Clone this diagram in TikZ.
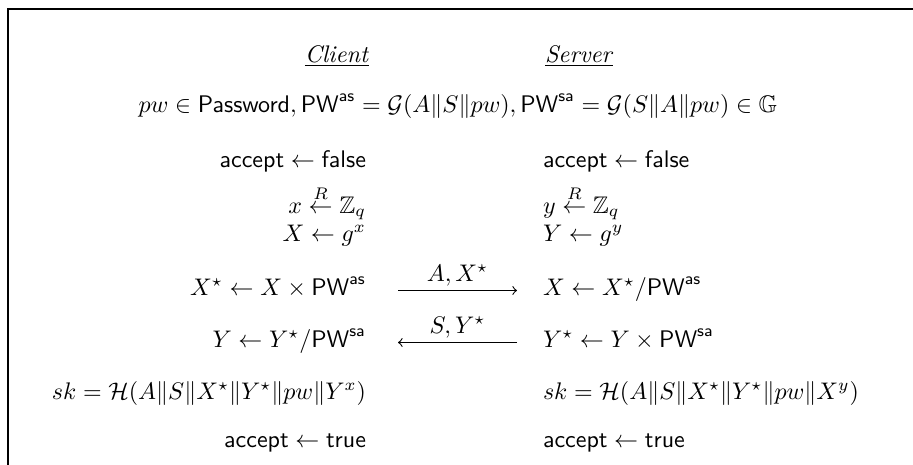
\documentclass[tikz,border=0pt]{standalone}
\usepackage{amsmath,amssymb}
\begin{document}
\begin{tikzpicture}[x=0.4167pt,y=-0.4167pt,
  every node/.style={inner sep=0pt, outer sep=0pt},
  frame/.style={line width=0.9pt},
  msg/.style={->, line width=0.45pt},
  lbl/.style={above=2pt},
  lcol/.style={anchor=base east},
  rcol/.style={anchor=base west}]
\useasboundingbox (0,0) rectangle (913,464);
\draw[frame] (7.7,475) -- (7.7,9.2) -- (925,9.2);
% headers
\node[lcol] (client) at (369,62) {\underline{\textit{Client}}};
\node[rcol] (server) at (545,62) {\underline{\textit{Server}}};
% setup
\node[anchor=base] (setup) at (458,112) {$pw \in \textsf{Password}, \textsf{PW}^{\textsf{as}} = \mathcal{G}(A\|S\|pw), \textsf{PW}^{\textsf{sa}} = \mathcal{G}(S\|A\|pw) \in \mathbb{G}$};
% accept false
\node[lcol] (cacc0) at (366,167) {$\textsf{accept} \leftarrow \textsf{false}$};
\node[rcol] (sacc0) at (543,167) {$\textsf{accept} \leftarrow \textsf{false}$};
% randoms
\node[lcol] (cx) at (366,213) {$x \stackrel{R}{\leftarrow} \mathbb{Z}_q$};
\node[lcol] (cX) at (366,241) {$X \leftarrow g^x$};
\node[rcol] (sy) at (543,213) {$y \stackrel{R}{\leftarrow} \mathbb{Z}_q$};
\node[rcol] (sY) at (543,241) {$Y \leftarrow g^y$};
% message 1
\node[lcol] (cXs) at (366,295) {$X^\star \leftarrow X \times \textsf{PW}^{\textsf{as}}$};
\node[rcol] (sXd) at (543,295) {$X \leftarrow X^\star / \textsf{PW}^{\textsf{as}}$};
\coordinate (m1s) at (398,290.5);
\coordinate (m1e) at (517,290.5);
\draw[msg] (m1s) -- node[lbl] (m1l) {$A, X^\star$} (m1e);
% message 2
\node[lcol] (cYd) at (366,347) {$Y \leftarrow Y^\star / \textsf{PW}^{\textsf{sa}}$};
\node[rcol] (sYs) at (543,347) {$Y^\star \leftarrow Y \times \textsf{PW}^{\textsf{sa}}$};
\coordinate (m2s) at (517,342.5);
\coordinate (m2e) at (398,342.5);
\draw[msg] (m2s) -- node[lbl] (m2l) {$S, Y^\star$} (m2e);
% keys
\node[lcol] (csk) at (366,399) {$sk = \mathcal{H}(A\|S\|X^\star\|Y^\star\|pw\|Y^x)$};
\node[rcol] (ssk) at (543,399) {$sk = \mathcal{H}(A\|S\|X^\star\|Y^\star\|pw\|X^y)$};
% accept true
\node[lcol] (cacc1) at (366,447) {$\textsf{accept} \leftarrow \textsf{true}$};
\node[rcol] (sacc1) at (543,447) {$\textsf{accept} \leftarrow \textsf{true}$};
\end{tikzpicture}
\end{document}
